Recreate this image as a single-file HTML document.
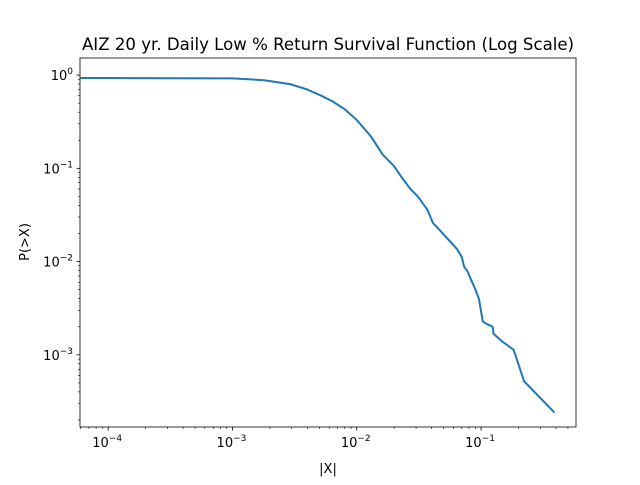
<!DOCTYPE html>
<html><head><meta charset="utf-8"><style>
body{margin:0;background:#fff}
svg{font-family:"DejaVu Sans","Liberation Sans",sans-serif}
</style></head><body>
<svg id="c" width="640" height="480" xmlns="http://www.w3.org/2000/svg">
<rect width="640" height="480" fill="#fff"/>
<text x="328" y="50" text-anchor="middle" font-size="16.6">AIZ 20 yr. Daily Low % Return Survival Function (Log Scale)</text>
<text x="328" y="473" text-anchor="middle" font-size="13">|X|</text>
<text transform="translate(29,242) rotate(-90)" text-anchor="middle" font-size="13">P(&gt;X)</text>
<g id="g"></g>
</svg>
<script>
const xVals=[6e-5,1e-4,3e-4,1e-3,1.8e-3,2.9e-3,4e-3,5.2e-3,6.4e-3,8e-3,1e-2,1.3e-2,1.62e-2,2e-2,2.3e-2,2.7e-2,3.1e-2,3.7e-2,4.1e-2,4.6e-2,5.5e-2,6.4e-2,7e-2,7.3e-2,7.8e-2,8.3e-2,8.9e-2,9.6e-2,0.103,0.107,0.124,0.126,0.146,0.183,0.222,0.39];
const yVals=[0.93,0.93,0.925,0.92,0.88,0.8,0.7,0.6,0.52,0.43,0.33,0.22,0.14,0.105,0.08,0.06,0.05,0.036,0.026,0.022,0.017,0.0136,0.0112,0.0088,0.0078,0.0064,0.0052,0.0040,0.0023,0.0022,0.0020,0.00168,0.00141,0.00113,0.00052,0.00024];
const xTicks=[-4,-3,-2,-1];const yTicks=[0,-1,-2,-3];
const L=80,R=576,T=58,B=427;
const X0=-4.2266,X1=-0.2362,Y0=-3.774,Y1=0.183;
const sx=v=>L+(Math.log10(v)-X0)/(X1-X0)*(R-L);
const sy=v=>B-(Math.log10(v)-Y0)/(Y1-Y0)*(B-T);
const g=document.getElementById('g');const NS='http://www.w3.org/2000/svg';
function mk(t,a){const e=document.createElementNS(NS,t);for(const k in a)e.setAttribute(k,a[k]);g.appendChild(e);return e;}
for(let d=-5;d<=0;d++)for(let m=1;m<10;m++){const v=m*Math.pow(10,d);const x=sx(v);
 if(x>=L-0.1&&x<=R+0.1){const ln=mk('line',{x1:x,x2:x,y1:B,y2:B+(m==1?3.5:2),stroke:'#000','stroke-width':m==1?0.8:0.6});
 }
 const y=sy(v);if(y>=T-0.1&&y<=B+0.1){const ln=mk('line',{x1:L,x2:L-(m==1?3.5:2),y1:y,y2:y,stroke:'#000','stroke-width':m==1?0.8:0.6});
 }}
xTicks.forEach(p=>{const t=mk('text',{x:sx(Math.pow(10,p))-1,y:B+20,'text-anchor':'middle','font-size':13});
 
 t.innerHTML='10<tspan dy="-6" font-size="9">\u2212'+(-p)+'</tspan>';});
yTicks.forEach(p=>{const t=mk('text',{x:L-7,y:sy(Math.pow(10,p))+5,'text-anchor':'end','font-size':13});
 
 t.innerHTML='10<tspan dy="-6" font-size="9">'+(p==0?'0':'\u2212'+(-p))+'</tspan>';});
const pts=xVals.map((v,i)=>sx(v).toFixed(1)+','+sy(yVals[i]).toFixed(1)).join(' ');
const pl=mk('polyline',{points:pts,fill:'none',stroke:'#1f77b4','stroke-width':2,'stroke-linejoin':'round'});

const fr=mk('rect',{x:L,y:T,width:R-L,height:B-T,fill:'none',stroke:'#000','stroke-width':0.8});

</script>
</body></html>
